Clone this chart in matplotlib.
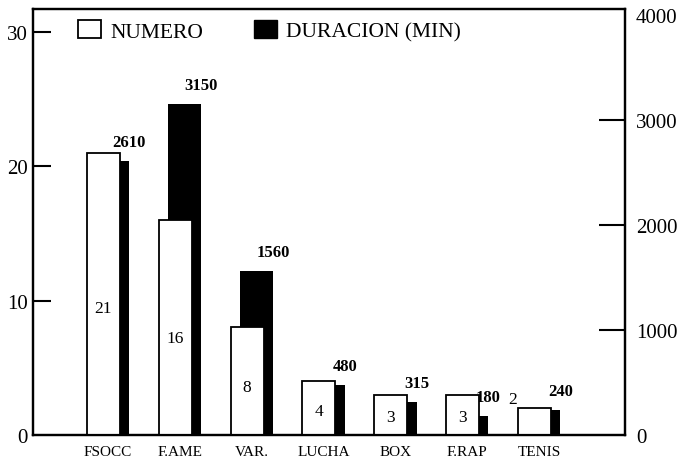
import numpy as np
import matplotlib
matplotlib.use("Agg")
import matplotlib.pyplot as plt
from matplotlib.patches import Patch

plt.rcParams['font.family'] = ['Liberation Serif', 'DejaVu Serif']

# data
categories = ["FSOCC", "F.AME", "VAR.", "LUCHA", "BOX", "F.RAP", "TENIS"]
numero = [21, 16, 8, 4, 3, 3, 2]
duracion = [2610, 3150, 1560, 480, 315, 180, 240]

fig = plt.figure(figsize=(6.81, 4.64), dpi=100)
ax = fig.add_axes([33 / 681, 1 - 436 / 464, 592 / 681, 426 / 464])
ax2 = ax.twinx()

x = np.arange(len(categories))
w = 0.46
off = 0.13

# black bars sit behind the white ones, shifted right
ax2.bar(x + off, duracion, w, color="black", zorder=1)
ax.set_zorder(ax2.get_zorder() + 1)
ax.patch.set_visible(False)
ax.bar(x, numero, w, facecolor="white", edgecolor="black", linewidth=1.3, zorder=2)

for i, v in enumerate(numero):
    if i == len(numero) - 1:
        ax.text(x[i] - w / 2 - 0.02, v + 0.1, str(v), ha="right", va="bottom", fontsize=12.5)
    else:
        ax.text(x[i], v * 0.45, str(v), ha="center", va="center", fontsize=12.5)

for i, v in enumerate(duracion):
    ax2.annotate(str(v), (x[i] + off + w / 2, v), xytext=(0, 8), textcoords="offset points",
                 ha="center", va="bottom", fontsize=12, fontweight="bold")

ax.set_xlim(-0.98, 7.26)
ax.set_ylim(0, 31.7)
ax2.set_ylim(0, 4060)
ax.set_yticks([0, 10, 20, 30])
ax2.set_yticks([0, 1000, 2000, 3000, 4000])

ax.set_xticks(x + off / 2)
ax.set_xticklabels(categories, fontsize=11)
ax.tick_params(axis="x", length=0, pad=7)
ax.tick_params(axis="y", direction="in", length=13, width=1.5, labelsize=15, pad=4)
ax2.tick_params(axis="y", direction="in", length=19, width=1.5, labelsize=15, pad=8)
# no tick marks drawn at the ends of the right scale
rticks = ax2.yaxis.get_major_ticks()
for t in (rticks[0], rticks[-1]):
    t.tick2line.set_visible(False)
ax.yaxis.get_major_ticks()[0].tick1line.set_visible(False)

for a in (ax, ax2):
    for s in a.spines.values():
        s.set_linewidth(1.6)

handles = [Patch(facecolor="white", edgecolor="black", linewidth=1.3),
           Patch(facecolor="black", edgecolor="black")]
ax.legend(handles, ["NUMERO", "DURACION (MIN)"], loc="upper left", ncol=2, frameon=False,
          fontsize=15.5, handlelength=1.07, handleheight=0.93, handletextpad=0.42,
          columnspacing=2.37, borderpad=0, borderaxespad=0,
          bbox_to_anchor=((78 - 33) / 592, 1 - 11 / 426))

fig.savefig("out.png", dpi=100)
